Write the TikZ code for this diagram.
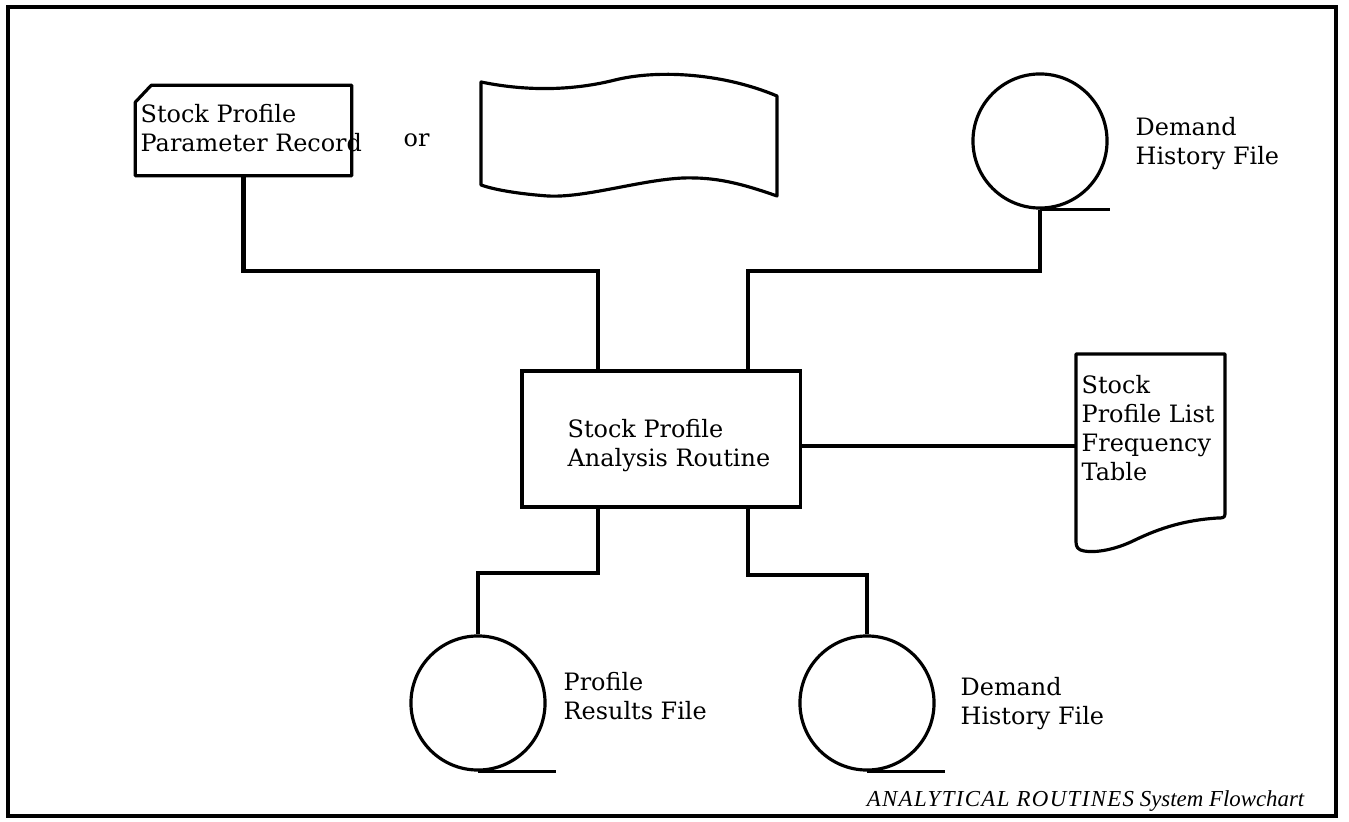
\documentclass[tikz,border=0pt]{standalone}
\usepackage{fontspec}
\setmainfont{DejaVu Serif}
\newfontfamily\titlefont{Liberation Serif}
\usetikzlibrary{calc,positioning}
\newcommand\lblfont{\fontsize{6.8}{8.25}\selectfont}
\tikzset{
  frame/.style={draw=black,line width=1.1pt},
  outline/.style={draw=black,line width=.9pt,line join=round},
  wire/.style={draw=black,line width=1.2pt},
  holder/.style={rectangle,inner sep=0pt},
  proc/.style={rectangle,draw=black,line width=.9pt,minimum width=2.78cm,minimum height=1.36cm,inner sep=0pt},
  disk/.style={circle,draw=black,line width=.9pt,minimum size=1.34cm,inner sep=0pt},
  txt/.style={font=\lblfont,align=left,inner sep=0pt,anchor=north west},
}

\begin{document}
\begin{tikzpicture}[x=0.01cm,y=-0.01cm]
  \path[use as bounding box] (0,0) rectangle (1349,822);
  \draw[frame] (8,7) rectangle (1336,816);
  % inputs
  \node[holder,minimum width=2.15cm,minimum height=.89cm] (card) at (243.5,130.5) {};
  \draw[outline] ($(card.north west)+(0,17)$) -- ($(card.north west)+(16,0)$) -- (card.north east)
    -- (card.south east) -- (card.south west) -- cycle;
  \node[txt] (cardtxt) at (140,104) {Stock Profile\\Parameter Record};
  \node[font=\lblfont,inner sep=0pt,anchor=base west] (ortxt) at (403,147) {or};
  \draw[outline] (481,82) .. controls (530,92) and (575,90) .. (615,80)
    .. controls (655,70) and (720,72) .. (777,96) -- (777,196)
    .. controls (740,183) and (715,177) .. (683,178)
    .. controls (640,180) and (585,198) .. (548,196)
    .. controls (520,194) and (495,190) .. (481,185) -- cycle;
  \node[disk] (dhtop) at (1040,141) {};
  \draw[outline] (dhtop.south) -- ++(70,0);
  \node[txt] (dhtoptxt) at (1135,117) {Demand\\History File};
  % routine
  \node[proc] (proc) at (661,439) {};
  \node[txt] (proctxt) at (567,419) {Stock Profile\\Analysis Routine};
  % report
  \node[holder,minimum width=1.49cm,minimum height=1.84cm] (doc) at (1150.5,446) {};
  \draw[outline] (1076,354) -- (1225,354) -- (1225,514)
    .. controls (1225,518) and (1222,518) .. (1218,518)
    .. controls (1185,520) and (1160,528) .. (1135,540)
    .. controls (1115,550) and (1095,553) .. (1084,551)
    .. controls (1078,550) and (1076,547) .. (1076,542) -- cycle;
  \node[txt] (doctxt) at (1081,375) {Stock\\Profile List\\Frequency\\Table};
  % outputs
  \node[disk] (prf) at (478,703) {};
  \draw[outline] (prf.south) -- ++(78,0);
  \node[txt] (prftxt) at (563,672) {Profile\\Results File};
  \node[disk] (dhbot) at (867,703) {};
  \draw[outline] (dhbot.south) -- ++(78,0);
  \node[txt] (dhbottxt) at (960,677) {Demand\\History File};
  % flow lines
  \draw[wire] (card.south) -- ++(0,95) -| ([xshift=-.63cm]proc.north);
  \draw[wire] (dhtop.south) -- ++(0,61) -| ([xshift=.87cm]proc.north);
  \draw[wire] (doc.west) -- (doc.west -| proc.east);
  \draw[wire] ([xshift=-.63cm]proc.south) -- ++(0,64) -| (prf.north);
  \draw[wire] ([xshift=.87cm]proc.south) -- ++(0,66) -| (dhbot.north);
  \node[inner sep=0pt,anchor=base east,font=\titlefont\itshape\fontsize{6.5}{7}\selectfont] (title) at (1305,806)
    {{\addfontfeature{LetterSpace=6}ANALYTICAL ROUTINES} System Flowchart};
\end{tikzpicture}
\end{document}
